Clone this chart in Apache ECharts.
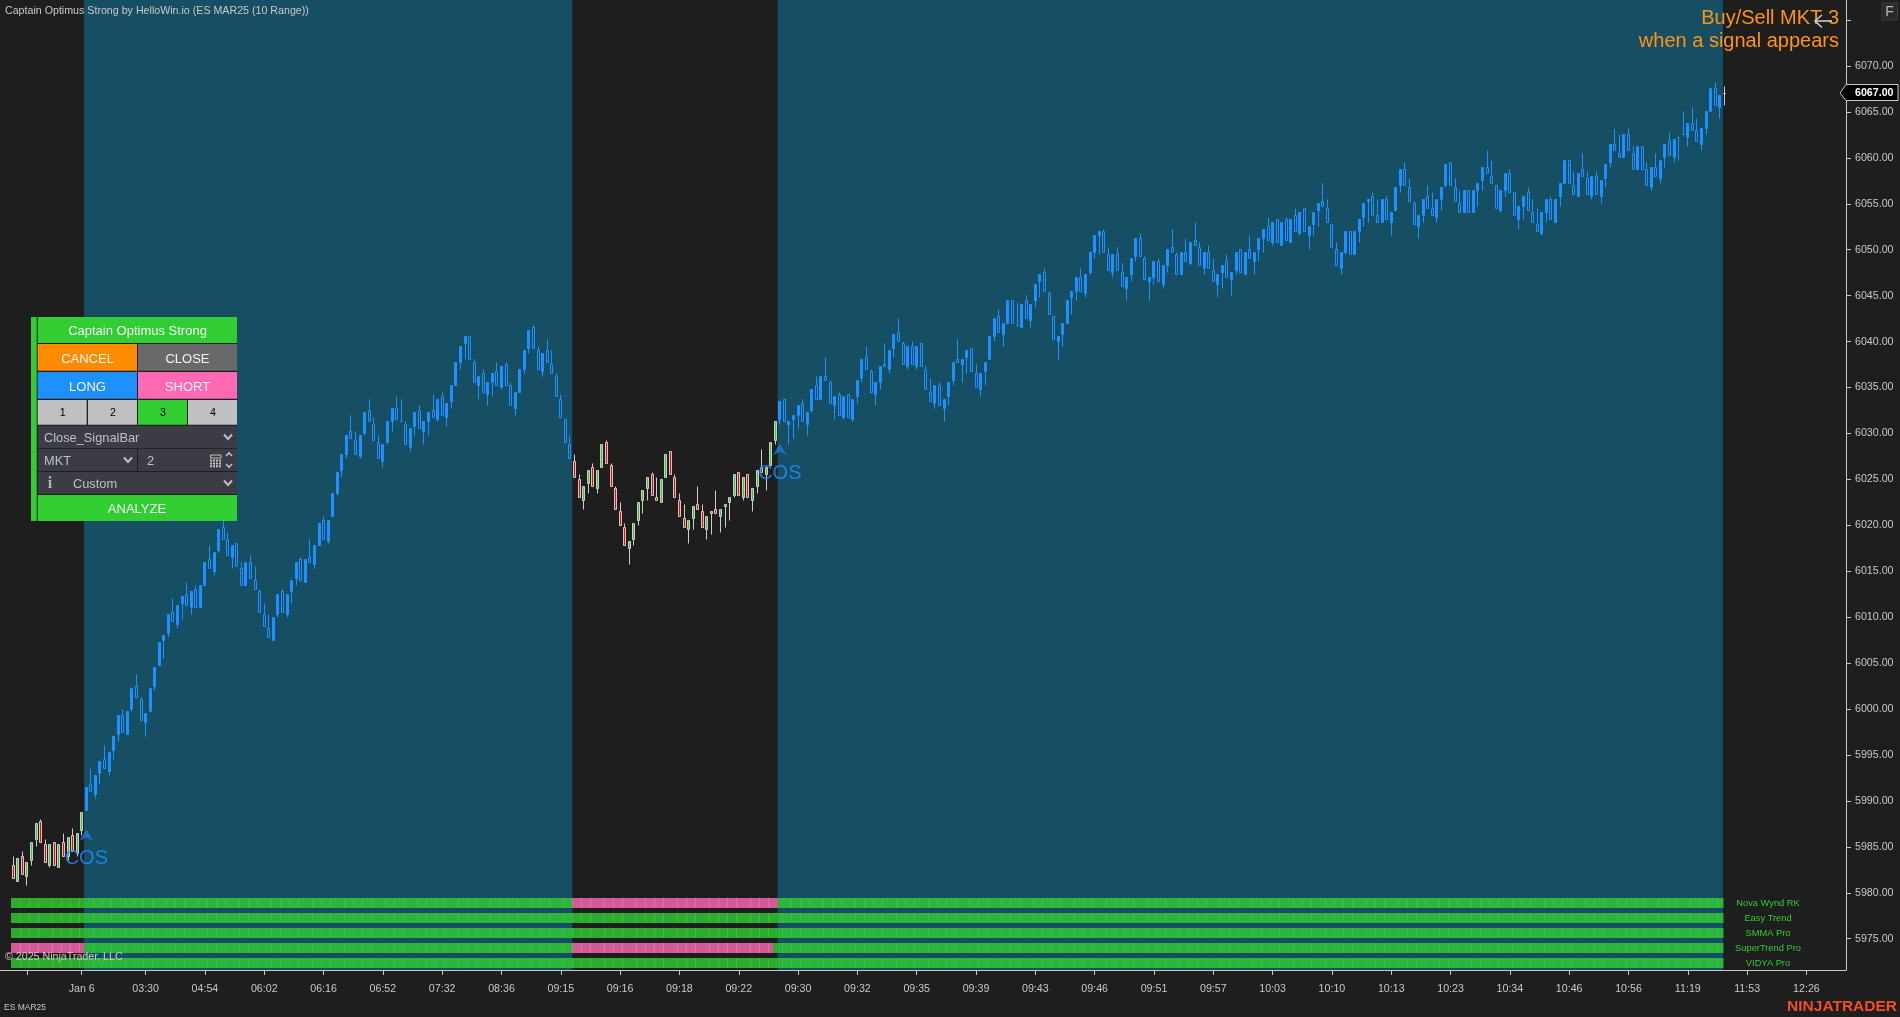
<!DOCTYPE html>
<html><head><meta charset="utf-8"><title>Captain Optimus Strong</title>
<style>html,body{margin:0;padding:0;background:#1e1e1e}#c{width:1900px;height:1017px}</style>
<script src="https://cdn.jsdelivr.net/npm/echarts@6/dist/echarts.min.js"></script>
</head><body><div id="c"></div><script>
const opens=[5983,5981.25,5984,5981.75,5983.5,5985.75,5987.75,5985.25,5983,5985.5,5982.75,5985.5,5984,5986.25,5984.25,5986.75,
5989,5991.75,5990.75,5993,5994.5,5993.25,5995.5,5997.25,5999.25,5997.25,6000,6002.5,6001,5998.5,5999.75,6002.5,6004.75,6007.5,6008.25,6010.5,6009.25,6011.5,6012.5,6011,6013,6011,6013.5,6016.25,6015,6017.25,6019.75,6018.5,6016.5,6018,
6015.25,6013.5,6016,6014,6012.75,6010.25,6008.75,6007.5,6010.25,6012.75,6010.25,6012.75,6014.25,6016.25,6013.75,6016.5,6015.75,6017.75,6020.5,6018.25,6021,6023.5,6026,6027.75,6030.25,6029.25,6027.5,6030,6032.5,6031,
6029,6027,6029,6031.25,6032.75,6031.25,6031,6028.5,6030.75,6032.5,6030.25,6031.25,6032.5,6031.5,6034,6031.75,6033.5,6035.25,6037.75,6039.75,6040.5,6037.75,6035.25,6036.5,6034.25,6035.5,6036.75,6035,6037.5,6035.25,
6032.75,6034.5,6037,6039.25,6041.5,6039,6036.75,6039,6037.5,6036.25,6033.75,6031.5,6028.75,
6027,6025,6022.75,6024.5,6026.25,6024,6026.25,6029,6026.5,6024,6021.5,6019.75,6017.5,6018.5,6020.5,6022.75,6024,6025.5,6023,6022.5,6025.25,6028,6025.25,6022.75,6020.75,6019.5,6020.75,6022.25,6021.5,6019.5,6021.25,6021.75,6021,6022,6022.5,6023.25,6025.75,6023,6025.5,6022.75,6024.25,6026.25,6025.5,6026.5,6029.25,
6031.5,6033.75,6031,6031.5,6032,6033.25,6031,6032.5,6035.25,6033.75,6036.25,6035.5,6033,6034.25,6031.75,6034.25,6031.5,6034,6036,6038.25,6036.75,6034.25,6035.5,6037.5,6037,6039.25,6041,6039.75,6037.25,6039.5,6037.25,6039.75,
6037,6034.5,6033.25,6035.25,6032.75,6034,6035.75,6038,6037.5,6038.25,6039.25,6036.5,6034.75,6036.75,6038,6040.5,6042.75,6040.75,6042,6044.5,6041.75,6041.5,6044.5,6042.25,6044.5,6046.5,6047.5,6045.25,6042.75,6040,6040.75,6042,6044.75,6045.5,6047,6045.25,6047.5,6049.75,6051.5,6052,
6049.5,6047.5,6049.5,6047.5,6045.75,6047.25,6049.25,6051.25,6049,6046.5,6047,6048.75,6046.25,6048.25,6050.25,6049.5,6047.25,6049.75,6048.5,6051,6050.25,6048,6049.75,6047.75,6046.25,
6047.5,6048.75,6046.75,6047.75,6050,6047.25,6050,6048.75,6050,6051.25,6052.5,6050.75,6053.25,6050.5,6053.25,6050.75,6053.75,6051.75,6054.5,6051.5,6052.75,6054.25,6055.25,6054.5,6052.75,6050,6048,6049.75,6052,6049.5,6052,6053.5,6055.25,6055.75,6053.75,6053,6055.5,6053,6054.25,6057,
6058.75,6056.75,6055,6052.5,6053.75,6055.75,6054.5,6053.5,6055.5,6057,6059.5,6056.75,6055,6054,6056.5,6054,6056.5,6057.5,6059,6058,6057,6054.25,6056.5,6058.25,6056.25,6053.25,6054.75,6056.25,6054,6052.75,6051.75,6054,6055.5,6053,6055.75,6057.25,6059.75,6057,6055.75,6058.75,
6057.75,6055.75,6058,6055.75,6057.75,6059.5,6061.5,6060.5,6060,6062.5,6060.5,6058.75,6061.25,6058.75,6056.75,6059,6057.75,6060,6061.75,6060,6062.25,6062.5,6062.25,6063.75,6063,6061.5,6063.25,6065,6067.5,6065.5,6067];
const highs=[5984,5983.75,5984.5,5983.25,5985.5,5987.5,5988,5985.75,5985.25,5985.5,5985.25,5986.5,5986,5987,5986.5,5988.75,
5991.5,5993.5,5992.75,5994.25,5996,5995.25,5997,5999.25,6000,5999.75,6002.25,6003.75,6001.25,5999.5,6002.25,6004.5,6007.25,6008,6010.25,6012,6011.25,6012.25,6013.75,6012.75,6013.5,6013.5,6016,6017.75,6017,6019.5,6021,6019.25,6017.75,6018,
6016,6016,6016.75,6015.5,6013,6011.5,6010.25,6010,6012.5,6013,6012.5,6014,6016,6016.5,6016.25,6018.5,6017.75,6020.25,6021,6020.5,6023.5,6025.75,6027.75,6029.75,6032,6030.25,6029.75,6032.25,6033.75,6031.75,
6029.75,6028.75,6031.25,6032.75,6034,6033.75,6031.25,6030.5,6032.25,6033,6031.25,6032.25,6034.25,6033.75,6034.5,6033.25,6035.25,6037.75,6039.5,6040.5,6040.5,6038,6036.25,6037,6035.5,6036.5,6037.75,6037.25,6037.75,6035.5,
6034.5,6037,6039,6041.25,6041.75,6039.5,6038.75,6040.25,6039,6036.5,6034.25,6031.5,6029.75,
6027.75,6025.5,6024.25,6026,6026.75,6026,6028.75,6029.25,6026.75,6024.25,6022.5,6020.25,6018.25,6020.25,6022.5,6023.75,6025.25,6025.75,6025.25,6025,6027.75,6028,6025.5,6023.5,6022.25,6020.5,6022,6024.25,6022.25,6021,6021.5,6023.75,6021.75,6022.25,6023,6025.5,6025.75,6025.25,6025.5,6024,6026,6028.25,6026.25,6029,6031.25,
6033.5,6033.75,6031.25,6032,6033,6033.75,6032.25,6034.75,6036.25,6036.25,6038.25,6035.75,6034,6034.5,6034,6034.25,6033.75,6035.75,6038,6039.5,6037,6035.5,6037.25,6039.75,6039,6040.75,6042.5,6040,6039.5,6040,6039.5,6039.75,
6037.25,6036,6035.25,6035.5,6033.75,6035.5,6037.75,6040.25,6038,6039,6039.25,6037.5,6036.5,6037.75,6040.5,6042.5,6043.5,6042,6044.5,6044.5,6044.25,6044,6045,6044,6046.25,6047.25,6048,6045.5,6042.75,6040.5,6042,6044.5,6045.5,6047,6048,6047.25,6049.75,6051.5,6052,6052.25,
6050.25,6049.5,6050.25,6048.5,6047,6049,6051.25,6051.75,6049.25,6047,6048.75,6049,6048.25,6050,6052.25,6049.75,6049.75,6051.25,6050.75,6053,6050.75,6049.75,6050.5,6049,6047.25,
6048.25,6049.5,6047.5,6049.75,6050,6049.75,6051.5,6049.75,6051.25,6052.25,6053.5,6053,6053.25,6053,6053.5,6053.25,6054.5,6054,6054.5,6052.5,6054,6055,6057.25,6055.5,6052.75,6050.75,6049.75,6052,6052,6052,6053.25,6055,6055.5,6056.25,6055.5,6055.5,6055.75,6054,6056.75,6058.75,
6059.5,6057.75,6055.25,6053.75,6055.5,6057,6056.25,6055.5,6056.75,6059.25,6059.5,6057.75,6056.5,6056.5,6056.5,6056.5,6057.25,6059,6060.75,6059.75,6057,6056.5,6058.25,6058.75,6056.25,6054.75,6055.75,6056.75,6055.5,6054.5,6054,6055.5,6055.75,6055.5,6057.25,6059.75,6059.75,6058.5,6058.25,6060.5,
6058.5,6058,6058.5,6057.5,6059.25,6061.5,6063.25,6062.5,6062.5,6063.25,6061.25,6061.25,6061.25,6059.5,6059,6060.5,6059.75,6061.5,6062.75,6062,6062.25,6065,6063.75,6065.5,6064.25,6063.25,6065,6067.5,6068.25,6066.75,6067.75];
const lows=[5981.5,5981.25,5982,5980.75,5983,5985,5985.5,5983.25,5982.75,5983,5982.75,5984,5983.5,5984.5,5984,5986.25,
5989,5991,5990.25,5991.75,5993.5,5992.75,5994.5,5996.5,5997.5,5997.25,5999.75,6001.25,5998.75,5997,5999.75,6002,6004.75,6005.5,6007.75,6009.5,6008.75,6009.75,6011.25,6010.25,6011,6011,6013.5,6015.25,6014.5,6017,6018.5,6016.75,6015.25,6015.5,
6013.5,6013.5,6014.25,6013,6010.5,6009,6007.75,6007.5,6010,6010.5,6010,6011.5,6013.5,6014,6013.75,6016,6015.25,6017.75,6018.5,6018,6021,6023.25,6025.25,6027.25,6029.5,6027.75,6027.25,6029.75,6031.25,6029.25,
6027.25,6026.25,6028.75,6030.25,6031.5,6031.25,6028.75,6028,6029.75,6030.5,6028.75,6029.75,6031.75,6031.25,6032,6030.75,6032.75,6035.25,6037,6038,6038,6035.5,6033.75,6034.5,6033,6034,6035.25,6034.75,6035.25,6033,
6032,6034.5,6036.5,6038.75,6039.25,6037,6036.25,6037.75,6036.5,6034,6031.75,6029,6027.25,
6025.25,6023,6021.75,6023.5,6024.25,6023.5,6026.25,6026.75,6024.25,6021.75,6020,6017.75,6015.75,6017.75,6020,6021.25,6022.75,6023.25,6022.75,6022.5,6025.25,6025.5,6023,6021,6019.75,6018,6019.5,6021.75,6019.75,6018.5,6019,6021.25,6019.25,6019.75,6020.5,6023,6023.25,6022.75,6023,6021.5,6023.5,6025.75,6023.75,6026.5,6028.75,
6031,6031.25,6028.75,6029.5,6030.5,6031.25,6029.75,6032.25,6033.75,6033.75,6035.75,6033.25,6031.5,6032,6031.5,6031.75,6031.25,6033.25,6035.5,6037,6034.5,6033,6034.75,6037.25,6036.5,6038.25,6040,6037.5,6037,6037.5,6037,6037.25,
6034.75,6033.5,6032.75,6033,6031.25,6033,6035.25,6037.75,6035.5,6036.5,6036.75,6035,6034,6035.25,6038,6040,6041,6039.5,6042,6042,6041.75,6041.5,6042.5,6041.5,6043.75,6044.75,6045.5,6043,6040.25,6038,6039.5,6042,6043,6044.5,6045.5,6044.75,6047.25,6049,6049.5,6049.75,
6047.75,6047,6047.75,6046,6044.5,6046.5,6048.75,6049.25,6046.75,6044.5,6046.25,6046.5,6045.75,6047.5,6049.75,6047.25,6047.25,6048.75,6048.25,6050.5,6048.25,6047.25,6048,6046.5,6044.75,
6045.75,6047,6045,6047.25,6047.5,6047.25,6049,6047.25,6048.75,6049.75,6051,6050.5,6050.75,6050.5,6051,6050.75,6052,6051.5,6052,6050,6051.5,6052.5,6054.75,6053,6050.25,6048.25,6047.25,6049.5,6049.5,6049.5,6050.75,6052.5,6053,6053.75,6053,6053,6053.25,6051.5,6054.25,6056.25,
6057,6055.25,6052.75,6051.25,6053,6054.5,6053.75,6053,6054.25,6056.75,6057,6055.25,6054,6054,6054,6054,6054.75,6056.5,6058.25,6057.25,6054.5,6054,6055.75,6056.25,6053.75,6052.25,6053.25,6054.25,6053,6052,6051.5,6053,6053.25,6053,6054.75,6057.25,6057.25,6056,6055.75,6058,
6056,6055.5,6056,6055,6056.75,6059,6060.75,6060,6060,6060.75,6058.75,6058.75,6058.75,6057,6056.5,6058,6057.25,6059,6060.25,6059.5,6059.75,6062.5,6061.25,6063,6061.75,6060.75,6062.5,6065,6065.75,6064.25,6065.75];
const closes=[5981.5,5983.75,5982,5983.25,5985.5,5987.5,5985.5,5983.25,5985.25,5983,5985.25,5984,5986,5984.5,5986.5,5988.75,
5991.5,5991,5992.75,5994.25,5993.5,5995.25,5997,5999.25,5997.5,5999.75,6002.25,6001.25,5998.75,5999.5,6002.25,6004.5,6007.25,6008,6010.25,6009.5,6011.25,6012.25,6011.25,6012.75,6011,6013.5,6016,6015.25,6017,6019.5,6018.5,6016.75,6017.75,6015.5,
6013.5,6016,6014.25,6013,6010.5,6009,6007.75,6010,6012.5,6010.5,6012.5,6014,6016,6014,6016.25,6016,6017.75,6020.25,6018.5,6020.5,6023.5,6025.75,6027.75,6029.75,6029.5,6027.75,6029.75,6032.25,6031.25,6029.25,
6027.25,6028.75,6031.25,6032.75,6031.5,6031.25,6028.75,6030.5,6032.25,6030.5,6031.25,6032.25,6031.75,6033.75,6032,6033.25,6035.25,6037.75,6039.5,6040.5,6038,6035.5,6036.25,6034.5,6035.5,6036.5,6035.25,6037.25,6035.25,6033,
6034.5,6037,6039,6041.25,6039.25,6037,6038.75,6037.75,6036.5,6034,6031.75,6029,6027.25,
6025.25,6023,6024.25,6026,6024.25,6026,6028.75,6026.75,6024.25,6021.75,6020,6017.75,6018.25,6020.25,6022.5,6023.75,6025.25,6023.25,6022.75,6025,6027.75,6025.5,6023,6021,6019.75,6020.5,6022,6021.75,6019.75,6021,6021.5,6021.25,6021.75,6022.25,6023,6025.5,6023.25,6025.25,6023,6024,6026,6025.75,6026.25,6029,6031.25,
6033.5,6031.25,6031.25,6032,6033,6031.25,6032.25,6034.75,6033.75,6036.25,6035.75,6033.25,6034,6032,6034,6031.75,6033.75,6035.75,6038,6037,6034.5,6035.5,6037.25,6037.25,6039,6040.75,6040,6037.5,6039.5,6037.5,6039.5,6037.25,
6034.75,6033.5,6035.25,6033,6033.75,6035.5,6037.75,6037.75,6038,6039,6036.75,6035,6036.5,6037.75,6040.5,6042.5,6041,6042,6044.5,6042,6041.75,6044,6042.5,6044,6046.25,6047.25,6045.5,6043,6040.25,6040.5,6042,6044.5,6045.5,6047,6045.5,6047.25,6049.75,6051.5,6052,6049.75,
6047.75,6049.5,6047.75,6046,6047,6049,6051.25,6049.25,6046.75,6047,6048.75,6046.5,6048.25,6050,6049.75,6047.25,6049.75,6048.75,6050.75,6050.5,6048.25,6049.75,6048,6046.5,6047.25,
6048.25,6047,6047.5,6049.75,6047.5,6049.75,6049,6049.75,6051.25,6052.25,6051,6053,6050.75,6053,6051,6053.25,6052,6054,6052,6052.5,6054,6055,6054.75,6053,6050.25,6048.25,6049.75,6052,6049.5,6052,6053.25,6055,6055.5,6053.75,6053,6055.5,6053.25,6054,6056.75,6058.75,
6057,6055.25,6052.75,6053.75,6055.5,6054.5,6053.75,6055.5,6056.75,6059.25,6057,6055.25,6054,6056.5,6054,6056.5,6057.25,6059,6058.25,6057.25,6054.5,6056.5,6058.25,6056.25,6053.75,6054.75,6055.75,6054.25,6053,6052,6054,6055.5,6053.25,6055.5,6057.25,6059.75,6057.25,6056,6058.25,6058,
6056,6058,6056,6057.5,6059.25,6061.5,6060.75,6060,6062.5,6060.75,6058.75,6061.25,6058.75,6057,6059,6058,6059.75,6061.5,6060.25,6062,6062.25,6062.5,6063.75,6063,6061.75,6063.25,6065,6067.5,6065.75,6066.75,6067];
const yTicks=[5975,5980,5985,5990,5995,6000,6005,6010,6015,6020,6025,6030,6035,6040,6045,6050,6055,6060,6065,6070,6075];
const yLabels=[5975,5980,5985,5990,5995,6000,6005,6010,6015,6020,6025,6030,6035,6040,6045,6050,6055,6060,6065,6070];
const xTickIdx=[3,15,29,42,55,68,81,94,107,120,133,146,159,172,185,198,211,224,237,250,263,276,289,302,315,328,341,354,367,380,393];
const xLabelIdx=[15,29,42,55,68,81,94,107,120,133,146,159,172,185,198,211,224,237,250,263,276,289,302,315,328,341,354,367,380,393];
const xLabels=['Jan 6','03:30','04:54','06:02','06:16','06:52','07:32','08:36','09:15','09:16','09:18','09:22','09:30','09:32','09:35','09:39','09:43','09:46','09:51','09:57','10:03','10:10','10:13','10:23','10:34','10:46','10:56','11:19','11:53','12:26'];
const zones=[[15.5,122.5],[167.5,374.7]];
const darkRuns=[[0,15],[123,167],[375,375]];
const cosIdx=[16,168];
const cosPrices=[5986.25,6028.25];
const rowNames=['Nova Wynd RK','Easy Trend','SMMA Pro','SuperTrend Pro','VIDYA Pro'];
const rowPink=[[[123,167]],[],[],[[0,15],[123,166]],[]];
const lastPrice='6067.00';

const F='"Liberation Sans", Arial, sans-serif';
const W=4.5627, X0=13.3;
const xMin=-X0/W, xMax=(1846-X0)/W;
const pxPerPt=872.7/95;
const yMax=6070+66/pxPerPt, yMin=6070-(970-66)/pxPerPt;
const isDark=i=>darkRuns.some(r=>i>=r[0]&&i<=r[1]);
const barData=opens.map((_,i)=>[i,opens[i],closes[i],lows[i],highs[i],isDark(i)?1:0]);
const stripData=[];
rowNames.forEach((_,r)=>{for(let i=0;i<375;i++){const p=rowPink[r].some(s=>i>=s[0]&&i<=s[1]);stripData.push([i,r,p?1:0]);}});
const G='#32CD32';
const el=[];
const rect=(x,y,w,h,fill)=>el.push({type:'rect',z:100,silent:true,shape:{x,y,width:w,height:h},style:{fill}});
const text=(t,x,y,fill,size,align,extra)=>el.push({type:'text',z:101,silent:true,style:{text:t,x,y,fill,font:(extra&&extra.weight?extra.weight+' ':'')+size+'px '+((extra&&extra.family)||F),align:align||'left',verticalAlign:'middle'}});
const poly=(pts,stroke,lw)=>el.push({type:'polyline',z:102,silent:true,shape:{points:pts},style:{stroke,lineWidth:lw||2,fill:'none'}});
const chev=(cx,cy)=>poly([[cx-4,cy-2.5],[cx,cy+2],[cx+4,cy-2.5]],'#C0C0C0',2);
// order panel
rect(31,317,206,204,'#1e1e1e');
rect(31,317,5.7,204,G);
rect(37.7,317,199.3,26,G);
text('Captain Optimus Strong',137.5,331.5,'#F4F4F4',13,'center');
rect(37.7,344,99.3,26.7,'#FF8C00'); text('CANCEL',87.5,359,'#F4F4F4',13,'center');
rect(138,344,99,26.7,'#696969'); text('CLOSE',187.5,359,'#F4F4F4',13,'center');
rect(37.7,372,99.3,26.7,'#1E90FF'); text('LONG',87.5,387,'#F4F4F4',13,'center');
rect(138,372,99,26.7,'#FF69B4'); text('SHORT',187.5,387,'#F4F4F4',13,'center');
[[37.7,'1','#C0C0C0'],[88,'2','#C0C0C0'],[138,'3',G],[188,'4','#C0C0C0']].forEach((c,i)=>{rect(c[0],400,49,24.7,c[2]);text(c[1],c[0]+25,413.5,'#000',10.67,'center');});
const DD='#3C3C46';
rect(37.7,425.7,199.3,22.6,DD); text('Close_SignalBar',44,438,'#C0C0C0',12.8); chev(228,437);
rect(37.7,449,99.3,22,DD); rect(138,449,99,22,DD); text('MKT',44,461,'#C0C0C0',12.8); chev(128,460); text('2',147,461,'#C0C0C0',12.8);
el.push({type:'rect',z:102,silent:true,shape:{x:210.5,y:455,width:10.5,height:3},style:{fill:'none',stroke:'#C0C0C0',lineWidth:1}});
for(let a=0;a<4;a++)for(let b=0;b<3;b++)rect(210+a*3,459.6+b*2.8,2,2,'#C0C0C0');
poly([[226,456],[229,453],[232,456]],'#C0C0C0',1.6); poly([[226,464],[229,467],[232,464]],'#C0C0C0',1.6);
rect(37.7,472,199.3,22,DD); text('i',50,483.5,'#B4B4BE',16,'center',{weight:'bold',family:'"Liberation Serif", serif'}); text('Custom',73,484,'#C0C0C0',12.8); chev(228,483);
rect(37.7,495,199.3,26,G); text('ANALYZE',137,509,'#F4F4F4',13,'center');
// titles and annotations
text('Captain Optimus Strong by HelloWin.io (ES MAR25 (10 Range))',5,11.5,'#C8C8C8',10.67);
text('Buy/Sell MKT 3',1839,18,'#FF9312',20,'right');
text('when a signal appears',1839,41,'#FF9312',20,'right');
poly([[1815,21],[1832,21]],'#C8C8C8',1.6); poly([[1822,15],[1815,21],[1822,27.5]],'#C8C8C8',1.6);
rect(1881.5,2.5,16.5,18,'#3a3a3a'); rect(1882.5,3.5,14.5,16,'#2a2a2a'); text('F',1889.5,12,'#B8B8B8',14,'center');
el.push({type:'polygon',z:100,silent:true,shape:{points:[[1840,93],[1846,84.5],[1898,84.5],[1898,100.5],[1846,100.5]]},style:{fill:'#000',stroke:'#C8C8C8',lineWidth:1}});
text(lastPrice,1855,93,'#FFF',10.67,'left',{weight:'bold'});
text('\u00A9 2025 NinjaTrader, LLC',5,957,'#C8C8C8',10.67);
text('ES MAR25',4,1008,'#C8C8C8',8.5);
text('NINJATRADER',1897,1007,'#F04E23',15.5,'right',{weight:'bold'});
rowNames.forEach((n,r)=>text(n,1768,903.5+15*r,G,9.3,'center'));

const chart=echarts.init(document.getElementById('c'),null,{renderer:'canvas'});
const lab={color:'#C8C8C8',fontFamily:F,fontSize:10.67};
const snap=v=>Math.floor(v)+.5;
chart.setOption({
 animation:false,backgroundColor:'#1e1e1e',
 grid:[{left:0,right:54,top:0,bottom:47,containLabel:false},{left:0,right:54,top:898,height:75}],
 xAxis:[{type:'value',min:xMin,max:xMax,gridIndex:0,splitLine:{show:false},
   axisLine:{show:true,onZero:false,lineStyle:{color:'#C8C8C8',width:1}},
   axisTick:{show:true,length:5,lineStyle:{color:'#C8C8C8'},customValues:xTickIdx},
   axisLabel:Object.assign({show:true,margin:14,customValues:xLabelIdx,hideOverlap:false,formatter:v=>{const k=xLabelIdx.indexOf(v);return k<0?'':xLabels[k];}},lab)},
  {type:'value',min:xMin,max:xMax,gridIndex:1,show:false}],
 yAxis:[{type:'value',min:yMin,max:yMax,gridIndex:0,position:'right',scale:true,splitLine:{show:false},
   axisLine:{show:true,onZero:false,lineStyle:{color:'#C8C8C8',width:1}},
   axisTick:{show:true,length:5,lineStyle:{color:'#C8C8C8'},customValues:yTicks},
   axisLabel:Object.assign({show:true,margin:9,customValues:yLabels,formatter:v=>v.toFixed(2)},lab)},
  {type:'value',min:0,max:5,inverse:true,gridIndex:1,show:false}],
 series:[
  {type:'custom',name:'zones',z:1,silent:true,clip:false,data:zones,encode:{x:[0,1]},
   renderItem:(p,api)=>{const a=api.coord([api.value(0),yMax]),b=api.coord([api.value(1),yMin]);return {type:'rect',shape:{x:a[0],y:a[1],width:b[0]-a[0],height:b[1]-a[1]},style:{fill:'#164F63'}};}},
  {type:'custom',name:'bars',z:5,silent:true,clip:false,data:barData,encode:{x:0,y:[1,2,3,4]},
   renderItem:(p,api)=>{
     const i=api.value(0),o=api.value(1),c=api.value(2),l=api.value(3),h=api.value(4),dark=api.value(5);
     const cx=snap(api.coord([i,o])[0]);
     const yO=snap(api.coord([i,o])[1]),yC=snap(api.coord([i,c])[1]),yL=snap(api.coord([i,l])[1]),yH=snap(api.coord([i,h])[1]);
     const top=Math.min(yO,yC),bot=Math.max(yO,yC);
     const stroke=dark?'#CCCCCC':'#1E90FF';
     const fill=c>o?(dark?'#32CD32':'#1E90FF'):c<o?(dark?'#FF0000':'none'):'none';
     const ch=[];
     if(yH<top)ch.push({type:'line',shape:{x1:cx,y1:yH,x2:cx,y2:top},style:{stroke,lineWidth:1}});
     if(yL>bot)ch.push({type:'line',shape:{x1:cx,y1:bot,x2:cx,y2:yL},style:{stroke,lineWidth:1}});
     ch.push({type:'rect',shape:{x:cx-1,y:top,width:2,height:Math.max(bot-top,0)},style:{fill,stroke,lineWidth:1}});
     return {type:'group',children:ch};
   }},
  {type:'custom',name:'strips',z:6,silent:true,clip:false,xAxisIndex:1,yAxisIndex:1,data:stripData,encode:{x:0,y:1},
   renderItem:(p,api)=>{const i=api.value(0),r=api.value(1);const a=api.coord([i-.5,r]);const h=api.coord([i,r+2/3])[1]-a[1];
     return {type:'rect',shape:{x:Math.round(a[0]),y:a[1],width:i===374?6.5:5,height:h},style:{fill:api.value(2)?'rgba(255,105,180,.8)':'rgba(50,205,50,.8)'}};}},
  {type:'scatter',name:'COS',z:8,silent:true,data:cosIdx.map((x,i)=>[x,cosPrices[i]]),
   symbol:'path://M7 0L14 12L7 8L0 12Z',symbolSize:[14,12],itemStyle:{color:'#1E78E0'},
   label:{show:true,position:'bottom',distance:7.5,formatter:'COS',color:'#1E90FF',fontSize:20,fontFamily:F}}
 ],
 graphic:{elements:el}
});
</script></body></html>
